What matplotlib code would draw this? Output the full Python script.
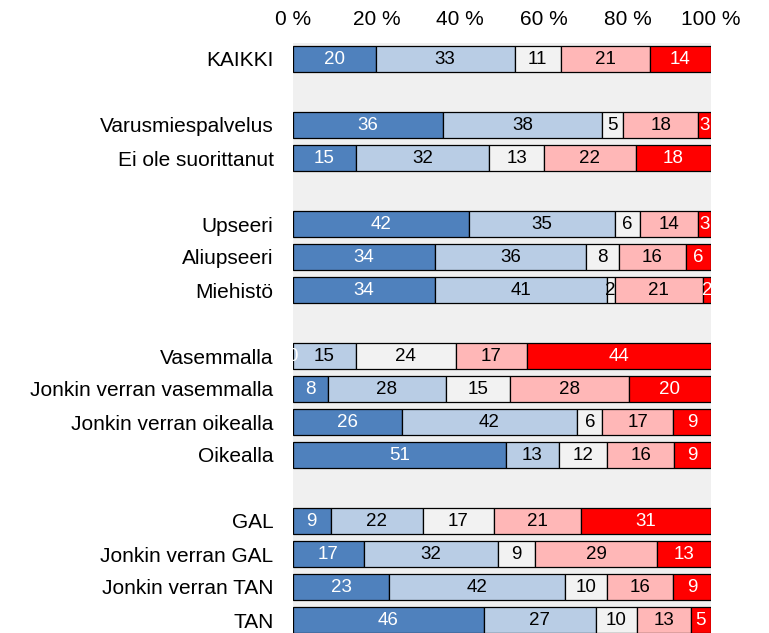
import matplotlib
matplotlib.use("Agg")
import matplotlib.pyplot as plt
import numpy as np

plt.rcParams['font.family'] = ['Liberation Sans', 'DejaVu Sans']

categories = ["KAIKKI", "",
              "Varusmiespalvelus", "Ei ole suorittanut", "",
              "Upseeri", "Aliupseeri", "Miehistö", "",
              "Vasemmalla", "Jonkin verran vasemmalla", "Jonkin verran oikealla", "Oikealla", "",
              "GAL", "Jonkin verran GAL", "Jonkin verran TAN", "TAN"]

# five answer classes, values in percent (None = empty spacer row)
s1 = [19.8, None, 36, 15, None, 42, 34, 34, None, 0, 8.3, 26, 50.9, None, 9, 17, 23, 45.6]
s2 = [33.2, None, 38, 32, None, 35, 36, 41, None, 15, 28.3, 42, 12.7, None, 22, 32, 42, 26.8]
s3 = [11.1, None, 5, 13, None, 6, 8, 2, None, 24, 15.3, 6, 11.6, None, 17, 9, 10, 9.9]
s4 = [21.4, None, 18, 22, None, 14, 16, 21, None, 17, 28.4, 17, 16.0, None, 21, 29, 16, 12.8]
s5 = [14.4, None, 3, 18, None, 3, 6, 2, None, 44, 19.6, 9, 8.8, None, 31, 13, 9, 4.9]

colors = ["#4F81BD", "#B9CDE5", "#F2F2F2", "#FFB7B7", "#FF0000"]
text_colors = ["white", "black", "black", "black", "white"]

xticks = [0, 20, 40, 60, 80, 100]
xticklabels = ["0 %", "20 %", "40 %", "60 %", "80 %", "100 %"]

fig = plt.figure(figsize=(7.69, 6.33), dpi=100)
ax = fig.add_axes([293/769, 1 - 636.5/633, (711-293)/769, (636.5-42.5)/633])
ax.set_facecolor("#F0F0F0")

series = [s1, s2, s3, s4, s5]
rows = [i for i, c in enumerate(categories) if c]
left = np.zeros(len(rows))
for k, s in enumerate(series):
    vals = np.array([s[i] for i in rows], dtype=float)
    ax.barh(rows, vals, left=left, height=0.76, color=colors[k],
            edgecolor="black", linewidth=0.9, zorder=2)
    for r, v, l in zip(rows, vals, left):
        ax.text(l + v/2, r + 0.03, f"{v:.0f}", ha="center", va="center",
                color=text_colors[k], fontsize=13.5, zorder=3, clip_on=False)
    left += vals

ax.set_xlim(0, 100)
ax.set_ylim(len(categories) - 0.5, -0.5)
ax.set_yticks(rows)
ax.set_yticklabels([categories[i] for i in rows], fontsize=15)
ax.set_xticks(xticks)
ax.set_xticklabels(xticklabels, fontsize=15)
ax.xaxis.tick_top()
ax.tick_params(axis="both", length=0)
ax.tick_params(axis="x", pad=10)
ax.tick_params(axis="y", pad=14)
for sp in ax.spines.values():
    sp.set_visible(False)

fig.savefig("out.png", dpi=100)
